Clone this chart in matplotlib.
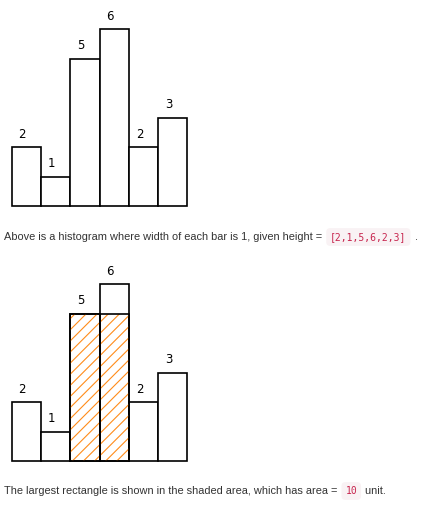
#!/usr/bin/env python3
import matplotlib
matplotlib.use("Agg")
import matplotlib.pyplot as plt
import numpy as np

heights = [2, 1, 5, 6, 2, 3]
shaded = [2, 3]
area = min(heights[i] for i in shaded) * len(shaded)

caption1 = ("Above is a histogram where width of each bar is 1, given height = ",
            "[2,1,5,6,2,3]", " .")
caption2 = ("The largest rectangle is shown in the shaded area, which has area = ",
            str(area), " unit.")

W, H = 429, 514
fig = plt.figure(figsize=(W / 100, H / 100), dpi=100)
plt.rcParams['hatch.linewidth'] = 0.8


def add_axes(bottom_px, top_px, left_px=11.7, right_px=187.3):
    ax = fig.add_axes([left_px / W, 1 - bottom_px / H,
                       (right_px - left_px) / W, (bottom_px - top_px) / H])
    ax.set_xlim(0, len(heights))
    ax.set_ylim(0, max(heights))
    ax.axis('off')
    return ax


def draw_hist(ax):
    x = np.arange(len(heights))
    ax.bar(x, heights, width=1, align='edge', color='white',
           edgecolor='black', linewidth=1.2, clip_on=False)
    for i, h in enumerate(heights):
        ax.annotate(str(h), (i + 0.5, h), xytext=(-4, 13),
                    textcoords='offset pixels', ha='center', va='center',
                    fontsize=8.5, family='DejaVu Sans', color='black')


ax1 = add_axes(206, 29.3)
draw_hist(ax1)

ax2 = add_axes(461, 284.3)
draw_hist(ax2)
hmin = min(heights[i] for i in shaded)
ax2.bar(shaded, [hmin] * len(shaded), width=1, align='edge', color='none',
        edgecolor='#ff8c1a', hatch='///', linewidth=0, clip_on=False)
ax2.bar(shaded, [hmin] * len(shaded), width=1, align='edge', color='none',
        edgecolor='black', linewidth=1.2, clip_on=False)

fig.canvas.draw()
renderer = fig.canvas.get_renderer()


def caption(parts, y_px, x_px=4):
    x = x_px / W
    y = 1 - y_px / H
    pre, code, post = parts
    t = fig.text(x, y, pre, fontsize=7.9, family='Liberation Sans',
                 color='#333333', va='center')
    bb = t.get_window_extent(renderer)
    x = (bb.x1 + 5) / W
    t = fig.text(x, y, code, fontsize=7.0, family='DejaVu Sans Mono',
                 color='#c7254e', va='center',
                 bbox=dict(boxstyle='round,pad=0.4', fc='#f9f2f4', ec='none'))
    bb = t.get_window_extent(renderer)
    x = (bb.x1 + 5) / W
    fig.text(x, y, post, fontsize=7.9, family='Liberation Sans',
             color='#333333', va='center')


caption(caption1, 237)
caption(caption2, 491)

fig.savefig('out.png', dpi=100)
